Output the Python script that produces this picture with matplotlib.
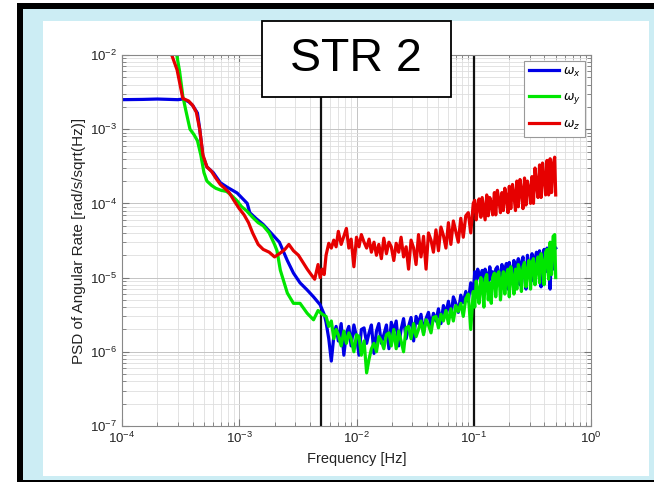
import numpy as np
import matplotlib.pyplot as plt
from matplotlib.patches import Rectangle

plt.rcParams['font.family'] = ['Liberation Sans', 'DejaVu Sans']

# ---- data ----
# low-frequency part of each curve (Hz, rad/s/sqrt(Hz))
fx_low = [1.0e-4, 1.5e-4, 2.0e-4, 2.5e-4, 3.0e-4, 3.3e-4, 3.7e-4, 4.0e-4, 4.4e-4, 4.6e-4,
          4.9e-4, 5.3e-4, 6.0e-4, 6.9e-4, 7.9e-4, 9.6e-4, 1.17e-3, 1.23e-3, 1.4e-3, 1.6e-3,
          1.86e-3, 2.2e-3, 2.57e-3, 2.9e-3, 3.3e-3, 3.8e-3, 4.3e-3, 4.9e-3, 5.3e-3]
wx_low = [2.5e-3, 2.52e-3, 2.55e-3, 2.52e-3, 2.5e-3, 2.55e-3, 2.35e-3, 2.1e-3, 1.65e-3, 1.0e-3,
          4.3e-4, 3.1e-4, 2.6e-4, 1.9e-4, 1.65e-4, 1.38e-4, 1.0e-4, 7.5e-5, 6.2e-5, 5.2e-5,
          4.0e-5, 3.0e-5, 1.7e-5, 1.15e-5, 8.5e-6, 6.8e-6, 5.5e-6, 4.3e-6, 3.2e-6]

fy_low = [2.9e-4, 3.1e-4, 3.3e-4, 3.5e-4, 3.8e-4, 4.1e-4, 4.4e-4, 4.7e-4, 5.0e-4, 5.3e-4,
          5.8e-4, 6.3e-4, 7.0e-4, 7.8e-4, 8.5e-4, 9.5e-4, 1.05e-3, 1.15e-3, 1.3e-3, 1.45e-3,
          1.6e-3, 1.8e-3, 2.0e-3, 2.1e-3, 2.24e-3, 2.57e-3, 2.9e-3, 3.3e-3, 3.8e-3, 4.3e-3,
          4.7e-3, 5.1e-3]
wy_low = [1.1e-2, 6.0e-3, 2.8e-3, 1.8e-3, 1.0e-3, 8.5e-4, 7.0e-4, 4.5e-4, 2.6e-4, 2.0e-4,
          1.75e-4, 1.6e-4, 1.5e-4, 1.45e-4, 1.3e-4, 1.1e-4, 9.0e-5, 8.0e-5, 6.5e-5, 5.5e-5,
          5.0e-5, 4.0e-5, 2.8e-5, 2.3e-5, 1.26e-5, 6.2e-6, 4.5e-6, 4.5e-6, 3.3e-6, 2.7e-6,
          3.6e-6, 3.2e-6]

fz_low = [2.6e-4, 2.95e-4, 3.3e-4, 3.7e-4, 4.0e-4, 4.3e-4, 4.6e-4, 4.9e-4, 5.3e-4, 5.8e-4,
          6.3e-4, 6.9e-4, 7.5e-4, 8.2e-4, 9.0e-4, 1.0e-3, 1.1e-3, 1.2e-3, 1.3e-3, 1.45e-3,
          1.6e-3, 1.8e-3, 2.0e-3, 2.2e-3, 2.45e-3, 2.65e-3, 2.9e-3, 3.2e-3, 3.5e-3, 3.8e-3,
          4.1e-3, 4.4e-3, 4.7e-3, 4.9e-3, 5.1e-3, 5.3e-3]
wz_low = [1.1e-2, 6.3e-3, 2.6e-3, 2.4e-3, 2.1e-3, 1.7e-3, 1.0e-3, 4.5e-4, 3.1e-4, 2.7e-4,
          2.2e-4, 1.8e-4, 1.6e-4, 1.4e-4, 1.1e-4, 8.5e-5, 7.0e-5, 5.5e-5, 4.0e-5, 2.8e-5,
          2.4e-5, 2.2e-5, 1.9e-5, 2.1e-5, 2.4e-5, 2.8e-5, 2.3e-5, 2.0e-5, 1.6e-5, 1.3e-5,
          1.1e-5, 9.5e-6, 1.5e-5, 1.0e-5, 1.3e-5, 1.1e-5]

# noisy high-frequency part, shared frequency grid (Hz)
f_band = [0.0055, 0.0058, 0.0061, 0.0064, 0.0067, 0.0070, 0.0074, 0.0078, 0.0082, 0.0086,
          0.0090, 0.0095, 0.0100, 0.0105, 0.0110, 0.0116, 0.0122, 0.0128, 0.0134, 0.0141,
          0.0148, 0.0155, 0.0163, 0.0171, 0.0180, 0.0189, 0.0198, 0.0208, 0.0218, 0.0229,
          0.0240, 0.0252, 0.0265, 0.0278, 0.0292, 0.0307, 0.0322, 0.0338, 0.0355, 0.0373,
          0.0392, 0.0411, 0.0432, 0.0453, 0.0476, 0.0500, 0.0525, 0.0551, 0.0579, 0.0608,
          0.0638, 0.0670, 0.0703, 0.0738, 0.0775, 0.0814, 0.0855, 0.0898, 0.0943, 0.0990,
          0.102, 0.105, 0.108, 0.111, 0.115, 0.118, 0.122, 0.125, 0.129, 0.133,
          0.137, 0.141, 0.145, 0.150, 0.154, 0.159, 0.164, 0.169, 0.174, 0.179,
          0.184, 0.190, 0.196, 0.201, 0.207, 0.214, 0.220, 0.227, 0.233, 0.240,
          0.248, 0.255, 0.263, 0.271, 0.279, 0.287, 0.296, 0.305, 0.314, 0.323,
          0.333, 0.343, 0.353, 0.364, 0.375, 0.386, 0.398, 0.410, 0.422, 0.435,
          0.448, 0.461, 0.475, 0.490, 0.500]

wx_band = [2.5, 1.5, 0.75, 1.6, 2.2, 1.4, 2.4, 0.9, 1.8, 2.2,
           1.2, 2.3, 1.6, 0.9, 2.0, 2.1, 1.3, 1.8, 2.3, 0.95,
           1.9, 2.4, 1.3, 1.7, 2.3, 1.1, 2.5, 1.9, 2.6, 1.2,
           2.0, 2.8, 1.5, 2.2, 2.9, 1.4, 3.0, 2.4, 3.2, 1.8,
           2.8, 3.4, 2.2, 3.3, 2.6, 3.8, 2.4, 4.2, 3.3, 4.8,
           3.0, 5.5, 4.5, 3.4, 5.8, 4.6, 6.5, 4.8, 8.5, 6.0,
           12, 8, 13, 11, 9, 12.5, 8.5, 13, 11, 8,
           14, 9.5, 12, 7.5, 13, 14, 9, 11, 15, 8,
           13, 15.5, 7, 16, 12, 9.5, 17, 10, 14, 18,
           8, 16, 19, 11, 7, 20, 15, 11, 21, 9,
           18, 22, 12, 23, 7.5, 19, 24, 12, 25, 16,
           7, 27, 13, 26, 25]  # x 1e-6

wy_band = [3.0, 2.2, 2.6, 1.5, 2.0, 1.7, 1.2, 1.9, 1.3, 1.8,
           1.5, 1.0, 1.7, 1.6, 0.9, 1.4, 0.52, 0.8, 1.1, 1.3,
           1.0, 1.6, 1.4, 1.1, 1.7, 1.8, 1.2, 2.0, 1.1, 1.9,
           1.4, 1.0, 2.1, 2.2, 1.5, 2.4, 1.6, 2.0, 2.6, 1.7,
           2.7, 2.3, 1.8, 2.9, 3.0, 2.1, 3.2, 2.6, 3.6, 2.4,
           3.8, 2.6, 4.2, 3.5, 4.5, 3.0, 5.2, 6.0, 2.0, 6.5,
           4.0, 9.0, 6.5, 4.5, 10, 8, 4.0, 9.5, 11, 5.0,
           8.5, 4.5, 10, 11.5, 5.5, 11, 12, 5.0, 9, 12,
           6.0, 11, 13, 5.5, 14, 10, 6.0, 13, 7.0, 15,
           12, 6.5, 14, 16, 7.5, 12, 17, 7.0, 16, 18,
           8.0, 14, 19, 8.5, 21, 16, 8.0, 22, 24, 9.5,
           30, 11, 36, 38, 10]  # x 1e-6

wz_band = [2.0, 2.9, 2.5, 3.2, 2.6, 4.2, 2.8, 3.6, 4.6, 2.5,
           3.3, 1.4, 3.5, 2.6, 3.8, 3.0, 2.5, 3.3, 2.2, 3.0,
           2.0, 2.8, 1.8, 3.4, 2.1, 3.0, 2.6, 1.7, 2.9, 2.2,
           3.5, 1.9, 2.6, 1.3, 3.2, 2.5, 1.5, 3.8, 1.9, 3.6,
           1.3, 4.0, 3.2, 2.2, 4.4, 2.3, 4.8, 3.7, 2.5, 5.5,
           2.8, 5.8, 4.2, 3.0, 6.3, 3.5, 6.8, 7.5, 4.0, 10,
           11, 6.0, 9, 11.5, 6.5, 12, 8, 6.0, 13, 6.8,
           12, 10, 7.0, 14, 7.0, 15, 11, 7.5, 14, 8.0,
           16, 12, 7.5, 17, 8.5, 18, 13, 8.0, 20, 9.0,
           21, 15, 8.5, 22, 9.5, 20, 16, 10, 23, 10,
           30, 18, 12, 33, 12, 35, 22, 13, 38, 13,
           40, 14, 33, 42, 13]  # x 1e-5

marker_freqs = [5e-3, 1e-1]
series_labels = [r'$\omega_x$', r'$\omega_y$', r'$\omega_z$']
series_colors = ['#0000e6', '#00e600', '#e60000']

freq_x = np.array(fx_low + f_band)
freq_y = np.array(fy_low + f_band)
freq_z = np.array(fz_low + f_band)
psd_x = np.concatenate([wx_low, np.array(wx_band) * 1e-6])
psd_y = np.concatenate([wy_low, np.array(wy_band) * 1e-6])
psd_z = np.concatenate([wz_low, np.array(wz_band) * 1e-5])

# ---- figure with slide-like frame ----
W, H = 654, 482
fig = plt.figure(figsize=(W / 100, H / 100), dpi=100)


def px_rect(x0, y0, x1, y1, color, z=-5):
    fig.add_artist(Rectangle((x0 / W, 1 - y1 / H), (x1 - x0) / W, (y1 - y0) / H,
                             transform=fig.transFigure, facecolor=color,
                             edgecolor='none', zorder=z))


px_rect(23, 9, 654, 480, '#ccedf4')
px_rect(43, 21, 649, 476, 'white')
px_rect(17, 3, 23, 482, 'black')
px_rect(17, 3, 654, 9, 'black')
px_rect(17, 480, 654, 482, 'black')

ax = fig.add_axes([122 / W, 1 - 426 / H, 469 / W, 371 / H])
ax.set_xscale('log')
ax.set_yscale('log')

for f, p, lab, col in zip([freq_x, freq_y, freq_z], [psd_x, psd_y, psd_z],
                          series_labels, series_colors):
    ax.plot(f, p, color=col, lw=2.3, label=lab)

for fm in marker_freqs:
    ax.axvline(fm, color='#111111', lw=1.6, zorder=1)

ax.set_xlim(1e-4, 1e0)
ax.set_ylim(1e-7, 1e-2)
ax.grid(True, which='major', color='#c4c4c4', lw=0.7)
ax.grid(True, which='minor', color='#dedede', lw=0.6)
ax.set_axisbelow(True)
ax.tick_params(which='both', direction='in', top=True, right=True, colors='#777777',
               labelcolor='#222222', labelsize=9.5)
ax.tick_params(which='major', length=5)
ax.tick_params(which='minor', length=3)
for s in ax.spines.values():
    s.set_color('#888888')
    s.set_linewidth(0.8)

ax.set_xlabel('Frequency [Hz]', fontsize=10.5, color='#222222', labelpad=4)
ax.set_ylabel('PSD of Angular Rate [rad/s/sqrt(Hz)]', fontsize=11, color='#222222',
              labelpad=3)

leg = ax.legend(loc='upper right', fontsize=9, handlelength=2.4, handletextpad=0.3,
                labelspacing=1.0, borderaxespad=0.45, fancybox=False, framealpha=1)
leg.get_frame().set_edgecolor('#999999')
leg.get_frame().set_linewidth(0.8)

# title box
fig.add_artist(Rectangle((262 / W, 1 - 97 / H), 189 / W, 76 / H, transform=fig.transFigure,
                         facecolor='white', edgecolor='black', lw=1.3, zorder=5))
fig.text(356 / W, 1 - 59 / H, 'STR 2', fontsize=33.5, ha='center', va='center',
         color='black', zorder=6)

fig.savefig('out.png', dpi=100)
